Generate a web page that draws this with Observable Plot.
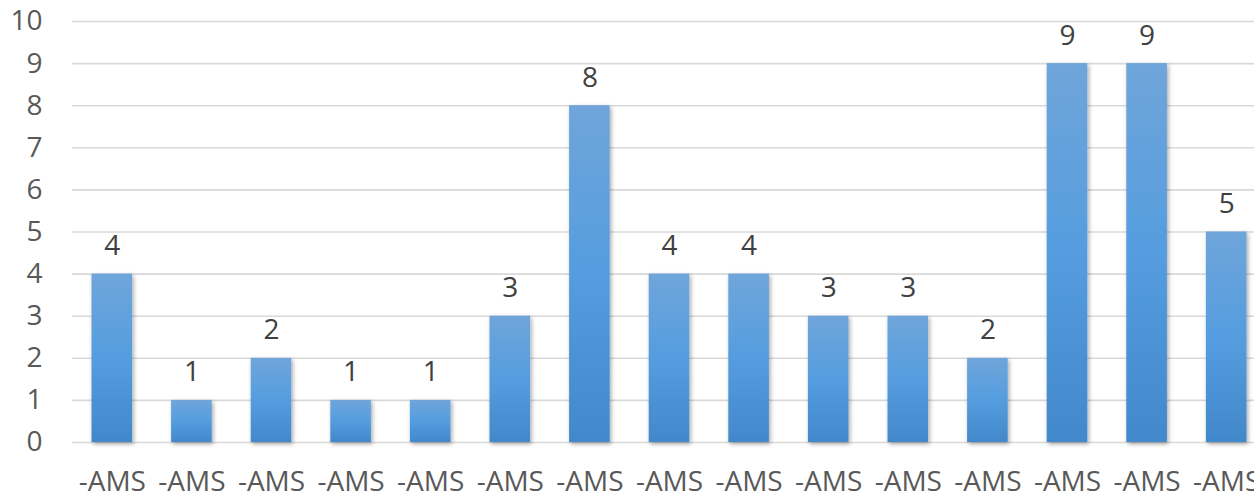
<!DOCTYPE html>
<html>
<head>
<meta charset="utf-8">
<script src="https://cdn.jsdelivr.net/npm/d3@7"></script>
<script src="https://cdn.jsdelivr.net/npm/@observablehq/plot@0.6"></script>
<style>
  html, body { margin: 0; padding: 0; background: #fff; overflow: hidden; }
  #chart svg { display: block; }
</style>
</head>
<body>
<div id="chart"></div>
<script>
// Category labels and counts, one bar per entry
const categories = ["-AMS", "-AMS", "-AMS", "-AMS", "-AMS", "-AMS", "-AMS", "-AMS",
                    "-AMS", "-AMS", "-AMS", "-AMS", "-AMS", "-AMS", "-AMS"];
const values = [4, 1, 2, 1, 1, 3, 8, 4, 4, 3, 3, 2, 9, 9, 5];
const yTicks = [0, 1, 2, 3, 4, 5, 6, 7, 8, 9, 10];

const data = values.map((v, i) => ({i, label: categories[i], value: v}));

const font = "'Open Sans', 'Noto Sans', sans-serif";

const chart = Plot.plot({
  width: 1254,
  height: 495,
  marginLeft: 72,
  marginRight: 0,
  marginTop: 21,
  marginBottom: 53,
  style: {fontFamily: font, fontSize: "28px", color: "#595959", background: "#fff"},
  x: {
    type: "band",
    domain: data.map(d => d.i),
    range: [72, 1266],
    paddingInner: 0.49,
    paddingOuter: 0.245,
    round: false,
    label: null
  },
  y: {domain: [0, 10], ticks: yTicks, label: null},
  marks: [
    Plot.gridY(yTicks, {stroke: "#d9d9d9", strokeOpacity: 1, strokeWidth: 1.6}),
    Plot.barY(data, {
      x: "i", y: "value",
      fill: "url(#barGrad)",
      className: "bars"
    }),
    Plot.text(data, {
      x: "i", y: "value", text: d => String(d.value),
      lineAnchor: "bottom", dy: -19,
      fill: "#404040", fontSize: 28
    }),
    Plot.axisY(yTicks, {
      tickSize: 0, tickPadding: 30, fontSize: 28, fill: "#595959",
      tickFormat: d => String(d), label: null
    }),
    Plot.axisX(data.map(d => d.i), {
      tickSize: 0, tickPadding: 29, fontSize: 28, fill: "#595959",
      tickFormat: i => categories[i], label: null
    })
  ]
});

// Vertical gradient and soft shadow for the bars
const svg = d3.select(chart);
const defs = svg.insert("defs", ":first-child");
const grad = defs.append("linearGradient")
  .attr("id", "barGrad").attr("x1", 0).attr("y1", 0).attr("x2", 0).attr("y2", 1);
grad.append("stop").attr("offset", "0%").attr("stop-color", "#6fa5da");
grad.append("stop").attr("offset", "50%").attr("stop-color", "#559ddf");
grad.append("stop").attr("offset", "100%").attr("stop-color", "#4288ca");
const flt = defs.append("filter").attr("id", "barShadow")
  .attr("x", "-30%").attr("y", "-10%").attr("width", "160%").attr("height", "130%");
flt.append("feDropShadow")
  .attr("dx", 1.5).attr("dy", 2).attr("stdDeviation", 2.2)
  .attr("flood-color", "#000").attr("flood-opacity", 0.35);
svg.selectAll(".bars rect").attr("filter", "url(#barShadow)");

document.getElementById("chart").appendChild(chart);
</script>
</body>
</html>
